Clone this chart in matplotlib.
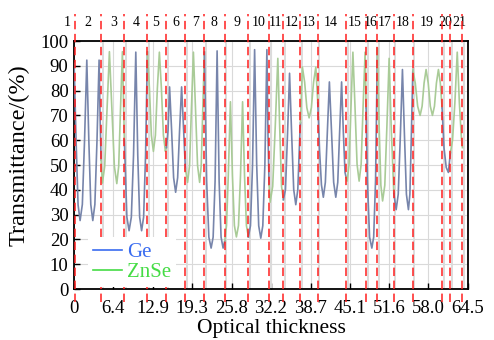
import matplotlib
matplotlib.use("Agg")
import matplotlib.pyplot as plt
from matplotlib.lines import Line2D
import numpy as np

plt.rcParams["font.family"] = ["Liberation Serif", "DejaVu Serif"]

# layer boundaries (optical thickness) where the monitor switches material
boundaries = [0.1, 4.42, 8.23, 12.0, 15.11, 18.22, 21.33, 24.67, 28.53, 31.92, 34.26,
              37.05, 39.89, 44.53, 47.80, 49.65, 52.34, 55.45, 60.24, 61.60, 63.57]
# material deposited between consecutive boundaries (layers 2..21)
segment_material = ["Ge", "ZnSe"] * 10
layer_names = [str(i) for i in range(1, 22)]
layer_label_x = [-1.10, 2.29, 6.43, 10.20, 13.37, 16.65, 19.81, 22.97, 26.73, 30.24, 32.90,
                 35.64, 38.36, 42.07, 46.00, 48.57, 50.91, 53.81, 57.74, 60.75, 63.05]

# monitoring transmittance trace
trace_x = [0.00, 0.33, 0.65, 0.98, 1.35, 1.71, 2.08, 2.41, 2.73, 3.06, 3.40, 3.75, 4.09, 4.27, 4.42,
           4.63, 5.01, 5.40, 5.78, 6.18, 6.59, 6.99, 7.30, 7.60, 7.91, 8.23,
           8.64, 9.00, 9.37, 9.73, 10.10, 10.42, 10.73, 11.05, 11.38, 11.70, 12.00,
           12.33, 12.65, 12.98, 13.31, 13.63, 13.96, 14.29, 14.62, 14.95, 15.11,
           15.38, 15.63, 15.96, 16.29, 16.62, 16.95, 17.27, 17.60, 17.93, 18.22,
           18.58, 18.90, 19.21, 19.53, 19.87, 20.21, 20.55, 20.81, 21.07, 21.33,
           21.70, 22.06, 22.43, 22.76, 23.08, 23.41, 23.74, 24.06, 24.39, 24.67,
           24.95, 25.24, 25.59, 25.92, 26.24, 26.57, 26.91, 27.24, 27.58, 27.90, 28.21, 28.53,
           28.87, 29.21, 29.55, 29.89, 30.22, 30.56, 30.89, 31.23, 31.56, 31.74, 31.92,
           32.09, 32.51, 32.93, 33.35, 33.65, 33.96, 34.26,
           34.60, 34.94, 35.27, 35.61, 35.95, 36.29, 36.62, 36.96, 37.05,
           37.37, 37.74, 38.10, 38.47, 38.84, 39.20, 39.57, 39.89,
           40.18, 40.49, 40.80, 41.13, 41.46, 41.79, 42.14, 42.49, 42.84, 43.16, 43.47, 43.79,
           44.07, 44.35, 44.53,
           44.70, 45.01, 45.33, 45.64, 45.98, 46.32, 46.66, 46.99, 47.31, 47.64, 47.80,
           48.01, 48.37, 48.74, 49.04, 49.35, 49.65,
           49.93, 50.22, 50.50, 50.86, 51.21, 51.57, 51.90, 52.34,
           52.72, 53.06, 53.41, 53.75, 54.08, 54.40, 54.73, 54.97, 55.21, 55.45,
           55.85, 56.24, 56.64, 56.97, 57.29, 57.62, 57.97, 58.31, 58.66, 58.99, 59.31, 59.64,
           59.95, 60.24,
           60.55, 60.92, 61.27, 61.60,
           61.95, 62.33, 62.72, 63.07, 63.40, 63.57]
trace_t = [91.0, 59.3, 33.9, 27.6, 34.1, 60.0, 92.3, 60.0, 34.1, 27.6, 34.1, 60.0, 92.3, 67.5, 52.0,
           42.7, 49.5, 72.9, 95.7, 72.9, 49.5, 42.5, 49.5, 72.9, 95.7, 60.0,
           29.0, 23.5, 29.0, 54.1, 95.5, 54.1, 29.0, 23.5, 29.0, 54.1, 95.5,
           80.9, 62.0, 55.5, 62.0, 80.9, 95.5, 80.9, 62.0, 55.5, 57.0,
           64.0, 81.5, 64.1, 44.9, 39.0, 44.9, 64.1, 81.5, 64.0, 48.5,
           43.0, 49.8, 72.9, 95.5, 72.9, 49.8, 43.0, 49.8, 72.9, 95.5,
           43.5, 20.9, 16.5, 20.9, 43.5, 96.0, 43.5, 20.9, 16.5, 19.5,
           25.6, 45.7, 75.5, 45.7, 25.6, 21.0, 25.6, 45.7, 75.5, 45.7, 25.6, 21.0,
           25.5, 50.1, 96.5, 50.1, 25.5, 20.5, 25.5, 50.1, 96.5, 62.0, 42.0,
           35.0, 41.4, 65.7, 93.0, 65.7, 41.4, 36.0,
           40.1, 62.6, 87.0, 62.6, 40.1, 34.0, 40.1, 62.6, 67.0,
           89.5, 83.4, 73.1, 69.0, 73.1, 83.4, 89.5, 75.0,
           56.0, 42.0, 37.0, 43.0, 63.5, 83.5, 63.5, 43.0, 37.0, 43.0, 63.5, 83.5,
           63.5, 47.0, 45.0,
           43.5, 50.3, 73.7, 95.5, 73.7, 50.3, 43.5, 50.3, 73.7, 95.5, 73.0,
           43.9, 20.9, 16.5, 20.9, 43.9, 97.0,
           66.0, 41.8, 35.5, 41.8, 66.0, 93.0, 66.0, 38.5,
           32.0, 38.2, 62.0, 88.5, 62.0, 38.2, 32.0, 38.2, 62.0, 88.5,
           83.0, 73.7, 70.0, 73.7, 83.0, 88.5, 83.0, 73.7, 70.0, 73.7, 83.0, 88.5,
           83.0, 73.0,
           57.0, 49.0, 47.0, 55.0,
           60.0, 75.0, 95.5, 75.0, 61.0, 57.0]

xtick_labels = ["0", "6.4", "12.9", "19.3", "25.8", "32.2", "38.7", "45.1", "51.6", "58.0", "64.5"]
ytick_values = list(range(0, 101, 10))

curve_colors = {"Ge": "#7785ab", "ZnSe": "#a9cb97"}
legend_colors = {"Ge": "#3a6cf0", "ZnSe": "#45dc45"}

fig = plt.figure(figsize=(4.94, 3.40), dpi=100)
ax = fig.add_axes([0.150, 0.150, 0.7976, 0.7294])

x = np.array(trace_x)
t = np.array(trace_t)
edges = [trace_x[0]] + boundaries[1:]
for i, mat in enumerate(segment_material):
    m = (x >= edges[i] - 1e-9) & (x <= edges[i + 1] + 1e-9)
    ax.plot(x[m], t[m], color=curve_colors[mat], lw=1.2, zorder=3)

# faint solid marks alongside each layer switch
ax.vlines(np.array(boundaries[1:]) + 0.25, 0, 100, colors="#dcdcdc", lw=1.4, zorder=1)

# red dashed layer boundaries, running past the frame top and bottom
ax.vlines(boundaries, -0.052, 1.109, transform=ax.get_xaxis_transform(),
          colors="#ff1f1f", linestyles=(0, (5.5, 3)), lw=1.1, clip_on=False, zorder=4)
for lx, name in zip(layer_label_x, layer_names):
    ax.text(lx, 1.075, name, transform=ax.get_xaxis_transform(), ha="center", va="center",
            fontsize=10)

ax.set_xlim(0, 64.5)
ax.set_ylim(0, 100)
ax.set_xticks([float(s) for s in xtick_labels], xtick_labels)
ax.set_yticks(ytick_values)
ax.grid(True, color="#d9d9d9", lw=0.8, zorder=0)
ax.set_axisbelow(True)
ax.tick_params(direction="in", length=4, width=1, labelsize=13.5)
ax.tick_params(axis="x", pad=8)
ax.tick_params(axis="y", pad=4)
for s in ax.spines.values():
    s.set_linewidth(1.3)

ax.set_xlabel("Optical thickness", fontsize=15.5, labelpad=1)
ax.set_ylabel("Transmittance/(%)", fontsize=17.5, labelpad=0)
ax.yaxis.set_label_coords(-0.112, 0.54)

handles = [Line2D([], [], color=legend_colors[m], lw=1.2) for m in ["Ge", "ZnSe"]]
leg = ax.legend(handles, ["Ge", "ZnSe"], loc="lower left", bbox_to_anchor=(0.036, 0.008),
                borderaxespad=0, fontsize=15, handlelength=1.35, handletextpad=0.25,
                labelspacing=0.0, borderpad=0.25, fancybox=False, framealpha=1)
leg.get_frame().set_edgecolor("none")
leg.set_zorder(6)
for txt, m in zip(leg.get_texts(), ["Ge", "ZnSe"]):
    txt.set_color(legend_colors[m])

fig.savefig("out.png", dpi=100)
